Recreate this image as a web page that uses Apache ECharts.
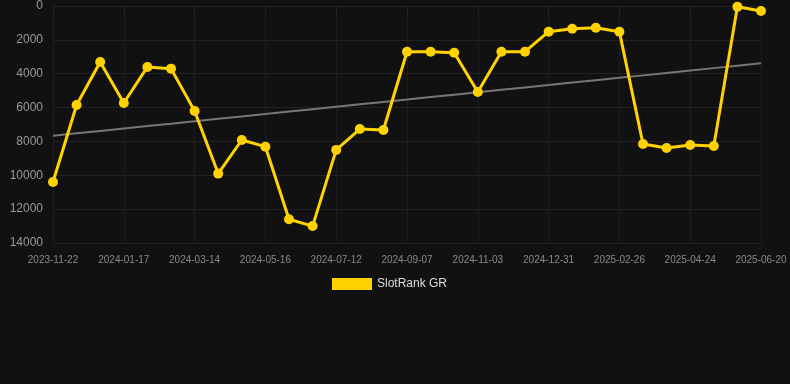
<!DOCTYPE html>
<html>
<head>
<meta charset="utf-8">
<script src="https://cdn.jsdelivr.net/npm/echarts@6/dist/echarts.min.js"></script>
<style>
html,body{margin:0;padding:0;background:#111111;}
#chart{width:790px;height:384px;}
</style>
</head>
<body>
<div id="chart"></div>
<script>
var categories = [
  '2023-11-22','2023-12-11','2023-12-29','2024-01-17','2024-02-05','2024-02-24',
  '2024-03-14','2024-04-04','2024-04-25','2024-05-16','2024-06-04','2024-06-23',
  '2024-07-12','2024-07-31','2024-08-19','2024-09-07','2024-09-26','2024-10-15',
  '2024-11-03','2024-11-22','2024-12-11','2024-12-31','2025-01-19','2025-02-07',
  '2025-02-26','2025-03-17','2025-04-05','2025-04-24','2025-05-13','2025-06-01',
  '2025-06-20'
];
var rankValues = [
  10400, 5850, 3310, 5730, 3600, 3700,
  6200, 9900, 7915, 8310, 12600, 13000,
  8500, 7270, 7325, 2700, 2700, 2760,
  5080, 2700, 2700, 1516, 1340, 1280,
  1516, 8150, 8390, 8210, 8270, 50,
  295
];
var seriesName = 'SlotRank GR';
var yTicks = [0, 2000, 4000, 6000, 8000, 10000, 12000, 14000];

// linear regression trend
var n = rankValues.length, sx = 0, sy = 0, sxy = 0, sxx = 0;
for (var i = 0; i < n; i++) { sx += i; sy += rankValues[i]; sxy += i * rankValues[i]; sxx += i * i; }
var slope = (n * sxy - sx * sy) / (n * sxx - sx * sx);
var intercept = (sy - slope * sx) / n;
var trend = rankValues.map(function (v, i) { return Math.round(intercept + slope * i); });

var chart = echarts.init(document.getElementById('chart'));
chart.setOption({
  backgroundColor: '#111111',
  animation: false,
  textStyle: { fontFamily: 'Arial, Liberation Sans, sans-serif' },
  grid: { left: 53, right: 29, top: 6, bottom: 141, containLabel: false },
  legend: {
    data: [{ name: seriesName, icon: 'rect' }],
    top: 273,
    left: 327,
    itemWidth: 40,
    itemHeight: 12,
    itemGap: 10,
    textStyle: { color: '#dddddd', fontSize: 12 }
  },
  xAxis: {
    type: 'category',
    data: categories,
    boundaryGap: false,
    axisLine: { show: false },
    axisTick: { show: true, interval: 2, length: 6, lineStyle: { color: '#262626' } },
    axisLabel: { interval: 2, color: '#888888', fontSize: 10, margin: 12 },
    splitLine: { show: true, interval: 2, lineStyle: { color: '#1d1d1d', width: 1 } }
  },
  yAxis: {
    type: 'value',
    inverse: true,
    min: yTicks[0],
    max: yTicks[yTicks.length - 1],
    interval: 2000,
    axisLine: { show: false },
    axisTick: { show: false },
    axisLabel: { color: '#999999', fontSize: 12, margin: 10, formatter: function (v) { return String(v); } },
    splitLine: { show: true, lineStyle: { color: '#222222', width: 1 } }
  },
  series: [
    {
      name: seriesName,
      type: 'line',
      data: rankValues,
      color: '#ffd200',
      symbol: 'circle',
      symbolSize: 10,
      lineStyle: { width: 3, color: '#ffd200' },
      itemStyle: { color: '#ffd200' },
      z: 3
    },
    {
      name: 'trend',
      type: 'line',
      data: trend,
      symbol: 'none',
      lineStyle: { width: 2, color: '#777777' },
      z: 2
    }
  ]
});
</script>
</body>
</html>
